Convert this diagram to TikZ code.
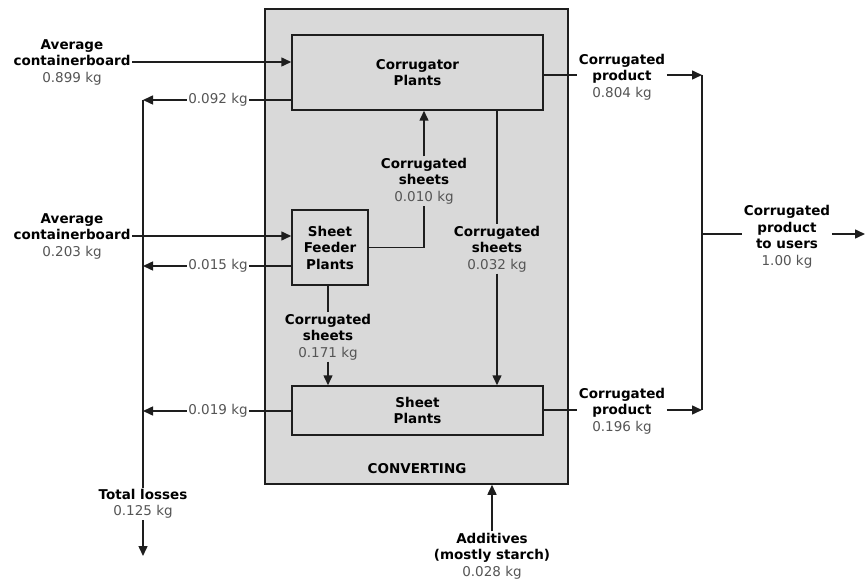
\documentclass[tikz,border=0pt]{standalone}
\usepackage{fontspec}
\setmainfont{DejaVu Sans}
\usepackage{tikz}
\usetikzlibrary{arrows.meta}

\definecolor{boxgray}{RGB}{217,217,217}
\definecolor{valgray}{RGB}{85,85,85}
\definecolor{linegray}{RGB}{30,30,30}
\newcommand{\val}[1]{{\mdseries\color{valgray}#1}}

\tikzset{
    plant/.style={rectangle, draw=linegray, fill=boxgray, line width=1.5pt,
        align=center, inner sep=0pt, font=\fontsize{13.5}{16.5}\selectfont\bfseries},
    flow/.style={align=center, inner sep=1.5pt,
        font=\fontsize{13.5}{16.5}\selectfont\bfseries},
    flowin/.style={flow, fill=boxgray},
    flowout/.style={flow, fill=white},
    conn/.style={draw=linegray, line width=1.5pt},
    arr/.style={conn, -{Triangle[length=10pt,width=9pt]}}
}

\begin{document}
\begin{tikzpicture}[x=1pt,y=-1pt]

    \useasboundingbox (0,0) rectangle (865,580);

    % converting box and plants
    \node (conv) [plant, minimum width=303pt, minimum height=475pt] at (416.5,246.5) {};
    \node (convlabel) [flow] at (417,469) {CONVERTING};
    \node (corr) [plant, minimum width=251pt, minimum height=75pt] at (417.5,72.5) {Corrugator\\Plants};
    \node (feeder) [plant, minimum width=76pt, minimum height=75pt] at (330,247.5) {Sheet\\Feeder\\Plants};
    \node (sheet) [plant, minimum width=251pt, minimum height=49pt] at (417.5,410.5) {Sheet\\Plants};

    % inputs
    \node (in1) [flowout] at (72,62) {Average\\containerboard\\\val{0.899 kg}};
    \node (in2) [flowout] at (72,236) {Average\\containerboard\\\val{0.203 kg}};
    \node (add) [flowout] at (492,556) {Additives\\(mostly starch)\\\val{0.028 kg}};
    \draw[arr] (in1.east) -- (in1.east -| corr.west);
    \draw[arr] (in2.east) -- (in2.east -| feeder.west);
    \draw[arr] (add.north) -- (add.north |- conv.south);

    % losses
    \coordinate (ltop) at (143,100);
    \coordinate (lend) at (143,556);
    \node (l092) [flowout] at (218,100) {\val{0.092 kg}};
    \node (l015) [flowout] at (218,266) {\val{0.015 kg}};
    \node (l019) [flowout] at (218,411) {\val{0.019 kg}};
    \node (loss) [flowout] at (143,504) {Total losses\\\val{0.125 kg}};
    \draw[conn] (l092 -| corr.west) -- (l092.east);
    \draw[arr] (l092.west) -- (ltop);
    \draw[conn] (l015 -| feeder.west) -- (l015.east);
    \draw[arr] (l015.west) -- (l015 -| ltop);
    \draw[conn] (l019 -| sheet.west) -- (l019.east);
    \draw[arr] (l019.west) -- (l019 -| ltop);
    \draw[conn] (ltop) -- (loss.north);
    \draw[arr] (loss.south) -- (lend);

    % sheets between plants
    \node (s010) [flowin] at (424,181) {Corrugated\\sheets\\\val{0.010 kg}};
    \node (s032) [flowin] at (497,249) {Corrugated\\sheets\\\val{0.032 kg}};
    \node (s171) [flowin] at (328,337) {Corrugated\\sheets\\\val{0.171 kg}};
    \draw[conn] (feeder.east) -| (s010.south);
    \draw[arr] (s010.north) -- (s010.north |- corr.south);
    \draw[conn] (s032.north |- corr.south) -- (s032.north);
    \draw[arr] (s032.south) -- (s032.south |- sheet.north);
    \draw[conn] (s171.north |- feeder.south) -- (s171.north);
    \draw[arr] (s171.south) -- (s171.south |- sheet.north);

    % products
    \coordinate (jtop) at (702,75);
    \coordinate (jbot) at (702,410);
    \coordinate (uend) at (865,234);
    \node (p804) [flowout] at (622,77) {Corrugated\\product\\\val{0.804 kg}};
    \node (p196) [flowout] at (622,411) {Corrugated\\product\\\val{0.196 kg}};
    \node (users) [flowout] at (787,237) {Corrugated\\product\\to users\\\val{1.00 kg}};
    \draw[conn] (corr.east |- jtop) -- (p804.west |- jtop);
    \draw[arr] (p804.east |- jtop) -- (jtop);
    \draw[conn] (sheet.east |- jbot) -- (p196.west |- jbot);
    \draw[arr] (p196.east |- jbot) -- (jbot);
    \draw[conn] (jtop) -- (jbot);
    \draw[conn] (jtop |- uend) -- (users.west |- uend);
    \draw[arr] (users.east |- uend) -- (uend);

\end{tikzpicture}
\end{document}
